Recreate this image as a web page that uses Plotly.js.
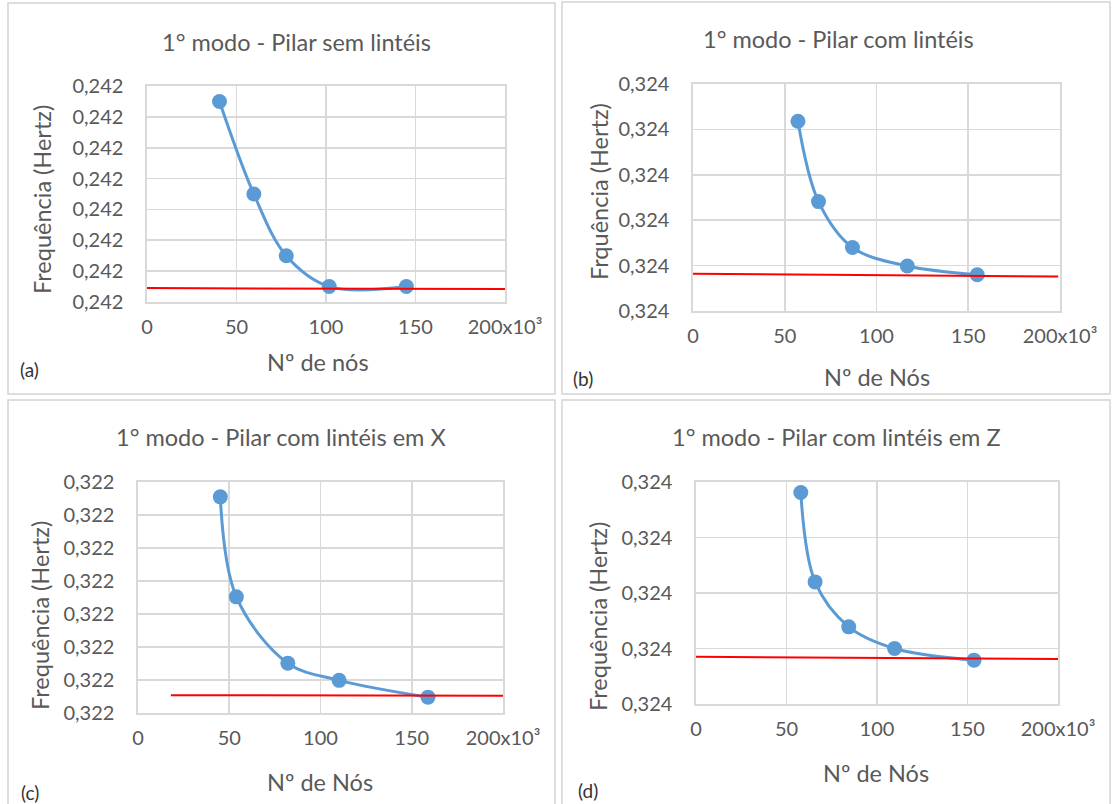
<!DOCTYPE html>
<html>
<head>
<meta charset="utf-8">
<script src="https://cdn.plot.ly/plotly-3.0.1.min.js"></script>
<style>html,body{margin:0;padding:0;background:#fff;}#chart{width:1116px;height:804px;}</style>
</head>
<body>
<div id="chart"></div>
<script>
// ---- data (x in thousands of nodes) ----
const xTicks = [0, 50, 100, 150, 200];
const xTickText = ['0', '50', '100', '150', '200x10³'];

const titleA = '1° modo - Pilar sem lintéis';
const xA = [40.5, 59.7, 77.8, 101.8, 144.9];
const yA = [0.242065, 0.242035, 0.242015, 0.242005, 0.242005];
const refXA = [0, 203];
const refYA = [0.2420045, 0.2420042];
const yTicksA = [0.24200, 0.24201, 0.24202, 0.24203, 0.24204, 0.24205, 0.24206, 0.24207];

const titleB = '1° modo - Pilar com lintéis';
const xB = [57.2, 68.4, 86.9, 116.8, 154.9];
const yB = [0.3240836, 0.3240482, 0.3240280, 0.3240198, 0.3240160];
const refXB = [-2, 199];
const refYB = [0.3240164, 0.3240152];
const yTicksB = [0.32400, 0.32402, 0.32404, 0.32406, 0.32408, 0.32410];

const titleC = '1° modo - Pilar com lintéis em X';
const xC = [45.1, 53.9, 82.1, 110.2, 158.9];
const yC = [0.3220655, 0.3220352, 0.3220151, 0.3220099, 0.3220048];
const refXC = [18, 205];
const refYC = [0.3220054, 0.3220052];
const yTicksC = [0.32200, 0.32201, 0.32202, 0.32203, 0.32204, 0.32205, 0.32206, 0.32207];

const titleD = '1° modo - Pilar com lintéis em Z';
const xD = [57.9, 65.8, 84.4, 109.7, 153.6];
const yD = [0.3240762, 0.3240440, 0.3240278, 0.3240200, 0.3240158];
const refXD = [-3, 208];
const refYD = [0.3240170, 0.3240162];
const yTicksD = [0.32400, 0.32402, 0.32404, 0.32406, 0.32408];

// ---- layout helpers (pixel geometry) ----
const W = 1116, H = 804;
const px = v => v / W;
const py = v => 1 - v / H;
const FONT = 'Lato, "Open Sans", sans-serif';
const GREY = '#595959';
const GRID = '#d9d9d9';
const BLUE = '#5b9bd5';

const panels = [
  {id: '', title: titleA, x: xA, y: yA, rx: refXA, ry: refYA, yt: yTicksA,
   box: [147, 505, 86, 302], frame: [8, 555, 3, 394],
   t: [296, 42], xt: [318, 362, 'Nº de nós'], yl: [42, 200, 'Frequência (Hertz)'], tag: [29, 370, '(a)']},
  {id: '2', title: titleB, x: xB, y: yB, rx: refXB, ry: refYB, yt: yTicksB,
   box: [693, 1060, 84, 311], frame: [562, 1110, 2, 394],
   t: [838, 39], xt: [877, 377, 'Nº de Nós'], yl: [599, 192, 'Frquência (Hertz)'], tag: [583, 378, '(b)']},
  {id: '3', title: titleC, x: xC, y: yC, rx: refXC, ry: refYC, yt: yTicksC,
   box: [138, 503, 482, 713], frame: [8, 555, 400, 812],
   t: [281, 437], xt: [320, 782, 'Nº de Nós'], yl: [40, 616, 'Frequência (Hertz)'], tag: [30, 792, '(c)']},
  {id: '4', title: titleD, x: xD, y: yD, rx: refXD, ry: refYD, yt: yTicksD,
   box: [696, 1058, 482, 704], frame: [562, 1110, 400, 812],
   t: [836, 437], xt: [876, 773, 'Nº de Nós'], yl: [598, 617, 'Frequência (Hertz)'], tag: [588, 790, '(d)']}
];

const data = [];
const layout = {
  width: W, height: H, autosize: false,
  margin: {l: 0, r: 0, t: 0, b: 0, pad: 0},
  paper_bgcolor: '#ffffff', plot_bgcolor: '#ffffff',
  showlegend: false, separators: ',.',
  font: {family: FONT, color: GREY},
  annotations: [], shapes: []
};

panels.forEach(p => {
  const xa = 'x' + p.id, ya = 'y' + p.id;
  data.push({
    type: 'scatter', mode: 'lines+markers', x: p.x, y: p.y, xaxis: xa, yaxis: ya,
    line: {color: BLUE, width: 3, shape: 'spline', smoothing: 1},
    marker: {color: BLUE, size: 15}, cliponaxis: false, hoverinfo: 'x+y'
  });
  data.push({
    type: 'scatter', mode: 'lines', x: p.rx, y: p.ry, xaxis: xa, yaxis: ya,
    line: {color: '#ff0000', width: 2}, hoverinfo: 'skip'
  });
  const axCommon = {
    showgrid: true, gridcolor: GRID, gridwidth: 1.6,
    showline: true, linecolor: GRID, linewidth: 1.6, mirror: true,
    zeroline: false, ticks: '', fixedrange: true,
    tickfont: {family: FONT, size: 20, color: GREY}
  };
  layout['xaxis' + p.id] = Object.assign({}, axCommon, {
    domain: [px(p.box[0]), px(p.box[1])], anchor: ya,
    range: [0, 200], tickmode: 'array', tickvals: xTicks, ticktext: xTickText,
    ticklabelstandoff: 6
  });
  layout['yaxis' + p.id] = Object.assign({}, axCommon, {
    domain: [py(p.box[3]), py(p.box[2])], anchor: xa,
    range: [p.yt[0], p.yt[p.yt.length - 1]], tickmode: 'array', tickvals: p.yt,
    tickformat: '.3f', ticklabelstandoff: 18
  });
  layout.shapes.push({
    type: 'rect', xref: 'paper', yref: 'paper',
    x0: px(p.frame[0]), x1: px(p.frame[1]), y0: py(p.frame[3]), y1: py(p.frame[2]),
    line: {color: '#d4d4d4', width: 1.5}, fillcolor: 'rgba(0,0,0,0)', layer: 'below'
  });
  const ann = (x, y, text, size, extra) => layout.annotations.push(Object.assign({
    xref: 'paper', yref: 'paper', x: px(x), y: py(y), text: text, showarrow: false,
    xanchor: 'center', yanchor: 'middle', font: {family: FONT, size: size, color: GREY}
  }, extra || {}));
  ann(p.t[0], p.t[1], p.title, 23.5);
  ann(p.xt[0], p.xt[1], p.xt[2], 23.5);
  ann(p.yl[0], p.yl[1], p.yl[2], 23.5, {textangle: -90});
  ann(p.tag[0], p.tag[1], p.tag[2], 19, {font: {family: FONT, size: 19, color: '#333333'}});
});

Plotly.newPlot('chart', data, layout, {displayModeBar: false, staticPlot: true});
</script>
</body>
</html>
